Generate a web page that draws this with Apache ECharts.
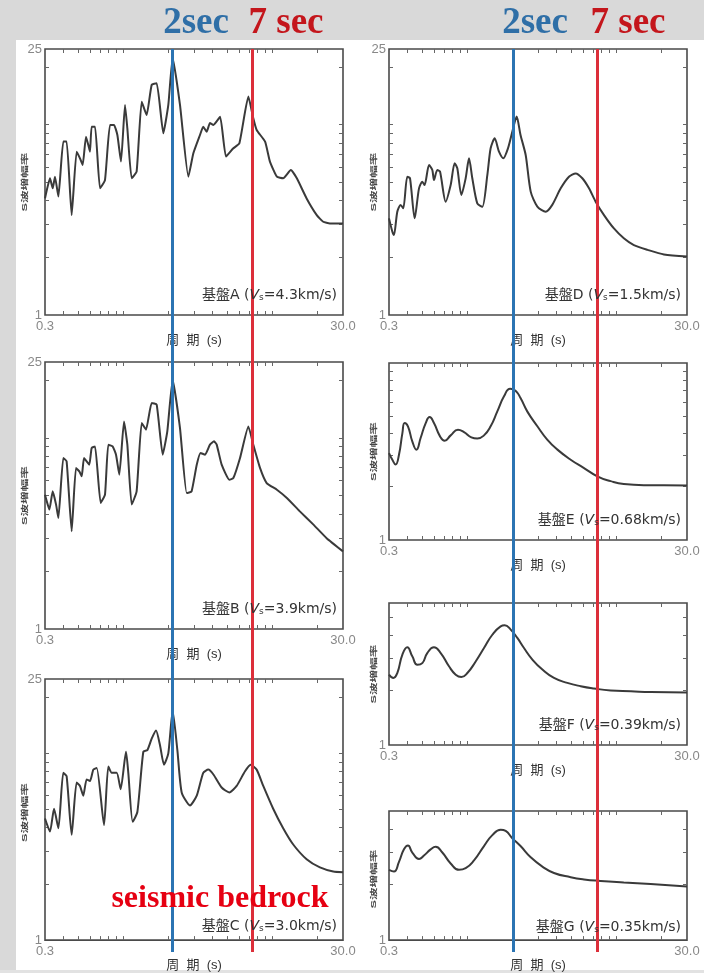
<!DOCTYPE html>
<html>
<head>
<meta charset="utf-8">
<title>S波増幅率</title>
<script src="https://cdn.jsdelivr.net/npm/echarts@6/dist/echarts.min.js"></script>
<style>
  html, body { margin: 0; padding: 0; background: #fff; }
  #chart { width: 704px; height: 973px; }
</style>
</head>
<body>
<div id="chart"></div>
<script>
  // period (s) / S-wave amplification, one pair of arrays per bedrock model
  let periodA = [0.3, 0.324, 0.338, 0.350, 0.369, 0.398, 0.419, 0.453, 0.489, 0.515, 0.537, 0.565, 0.586, 0.601, 0.617, 0.650, 0.702, 0.758, 0.819, 0.871, 0.918, 0.971, 1.033, 1.071, 1.145, 1.236, 1.337, 1.443, 1.56, 1.685, 1.867, 2.017, 2.157, 2.416, 2.75, 2.97, 3.29, 3.46, 3.65, 3.84, 4.05, 4.49, 4.92, 5.51, 6.05, 6.95, 7.5, 7.9, 9.0, 9.7, 10.8, 11.9, 13.4, 14.7, 17.1, 20.0, 22.1, 24.5, 30];
  let ampA = [4.10, 5.23, 4.63, 5.33, 4.19, 8.15, 8.15, 3.35, 7.22, 6.66, 6.14, 8.65, 7.82, 7.22, 9.77, 9.77, 4.63, 5.12, 9.97, 9.97, 8.83, 6.40, 12.7, 9.57, 5.23, 5.67, 13.2, 11.25, 16.2, 16.5, 9.01, 12.7, 22.5, 12.7, 5.33, 7.08, 8.83, 9.77, 9.19, 10.2, 9.97, 11.0, 6.80, 7.52, 7.99, 14.05, 10.8, 9.38, 8.15, 6.40, 5.33, 5.23, 5.78, 5.23, 4.10, 3.35, 3.09, 3.03, 3.03];

  let periodB = [0.3, 0.321, 0.338, 0.356, 0.369, 0.398, 0.419, 0.453, 0.484, 0.510, 0.529, 0.548, 0.571, 0.595, 0.617, 0.650, 0.709, 0.758, 0.798, 0.853, 0.899, 0.946, 1.017, 1.071, 1.145, 1.236, 1.337, 1.429, 1.56, 1.685, 1.849, 1.986, 2.157, 2.416, 2.68, 2.89, 3.13, 3.32, 3.56, 3.84, 4.09, 4.26, 4.60, 5.18, 5.51, 6.11, 6.95, 7.5, 8.32, 9.22, 10.8, 12.6, 15.4, 19.0, 23.3, 30];
  let ampB = [5.05, 4.22, 5.26, 4.48, 3.81, 7.86, 7.55, 3.25, 6.97, 6.69, 6.30, 7.86, 7.55, 7.25, 8.87, 9.04, 4.57, 5.05, 9.23, 9.04, 8.18, 6.43, 12.2, 9.23, 4.48, 5.26, 11.98, 11.06, 15.25, 14.95, 8.18, 10.83, 20.2, 11.28, 5.15, 5.26, 7.25, 8.35, 8.18, 9.23, 9.61, 9.23, 7.25, 6.05, 6.17, 7.86, 11.5, 9.23, 6.97, 5.81, 5.36, 4.85, 4.13, 3.52, 2.99, 2.55];

  let periodC = [0.3, 0.324, 0.345, 0.369, 0.398, 0.419, 0.453, 0.489, 0.515, 0.542, 0.571, 0.601, 0.633, 0.667, 0.747, 0.798, 0.841, 0.908, 0.966, 1.049, 1.087, 1.163, 1.250, 1.371, 1.459, 1.56, 1.668, 1.774, 1.887, 2.017, 2.157, 2.32, 2.48, 2.82, 3.13, 3.46, 3.74, 4.05, 4.60, 5.18, 5.80, 6.60, 7.20, 7.9, 8.75, 10.2, 11.9, 13.9, 17.1, 21.0, 25.8, 30];
  let ampC = [4.48, 3.81, 5.05, 3.97, 7.86, 7.55, 3.66, 6.97, 6.69, 5.93, 7.25, 7.11, 8.18, 8.35, 4.13, 8.51, 7.86, 7.86, 6.43, 10.2, 7.86, 4.30, 4.85, 10.2, 10.4, 11.98, 13.25, 11.06, 8.69, 10.0, 16.9, 10.4, 6.17, 5.26, 5.93, 7.86, 8.18, 7.70, 6.56, 6.17, 6.69, 8.02, 8.69, 8.18, 6.69, 5.05, 3.97, 3.25, 2.71, 2.45, 2.33, 2.31];

  let periodD = [0.3, 0.316, 0.324, 0.341, 0.359, 0.374, 0.398, 0.415, 0.446, 0.477, 0.502, 0.520, 0.557, 0.586, 0.601, 0.633, 0.660, 0.720, 0.778, 0.828, 0.862, 0.918, 0.981, 1.033, 1.087, 1.174, 1.269, 1.371, 1.443, 1.536, 1.642, 1.755, 1.887, 2.017, 2.157, 2.29, 2.48, 2.68, 2.97, 3.38, 3.74, 4.26, 4.84, 5.37, 5.95, 6.60, 7.31, 8.32, 9.7, 11.3, 13.2, 16.3, 21.0, 30];
  let ampD = [3.22, 2.74, 2.63, 3.49, 3.79, 3.64, 5.33, 5.23, 3.22, 4.63, 5.02, 4.82, 6.14, 5.78, 5.12, 5.78, 5.67, 3.94, 4.82, 6.27, 5.90, 4.27, 5.23, 6.66, 5.23, 3.86, 3.71, 5.44, 7.52, 8.48, 7.22, 6.66, 7.52, 9.19, 11.03, 8.83, 6.93, 4.45, 3.71, 3.49, 3.79, 4.63, 5.33, 5.55, 5.23, 4.63, 3.94, 3.35, 2.85, 2.53, 2.33, 2.20, 2.08, 2.03];

  let periodE = [0.3, 0.316, 0.332, 0.350, 0.369, 0.382, 0.402, 0.430, 0.458, 0.489, 0.529, 0.562, 0.601, 0.660, 0.709, 0.778, 0.871, 0.956, 1.071, 1.174, 1.302, 1.443, 1.60, 1.774, 1.95, 2.12, 2.29, 2.54, 2.97, 3.46, 4.05, 4.97, 6.11, 7.5, 9.22, 11.3, 15.4, 21.0, 30];
  let ampE = [3.10, 2.84, 2.67, 3.03, 4.02, 4.58, 4.39, 3.61, 3.24, 3.77, 4.58, 4.95, 4.58, 3.85, 3.64, 3.90, 4.20, 4.07, 3.80, 3.74, 3.90, 4.39, 5.33, 6.48, 7.16, 6.98, 6.34, 5.33, 4.39, 3.69, 3.24, 2.84, 2.55, 2.29, 2.15, 2.07, 2.04, 2.04, 2.03];

  let periodF = [0.3, 0.321, 0.341, 0.369, 0.398, 0.430, 0.465, 0.502, 0.542, 0.601, 0.667, 0.758, 0.841, 0.918, 1.007, 1.145, 1.302, 1.481, 1.685, 1.792, 1.967, 2.18, 2.416, 2.75, 3.21, 3.84, 4.72, 5.80, 7.13, 9.22, 12.6, 17.1, 30];
  let ampF = [2.43, 2.33, 2.48, 3.13, 3.43, 3.06, 2.75, 2.81, 3.19, 3.43, 3.19, 2.70, 2.43, 2.36, 2.48, 2.87, 3.40, 4.02, 4.47, 4.53, 4.29, 3.86, 3.40, 2.94, 2.59, 2.33, 2.19, 2.10, 2.04, 1.99, 1.97, 1.95, 1.94];

  let periodG = [0.3, 0.324, 0.350, 0.378, 0.402, 0.430, 0.477, 0.515, 0.571, 0.617, 0.684, 0.778, 0.885, 0.981, 1.116, 1.302, 1.481, 1.685, 1.82, 2.017, 2.29, 2.68, 3.21, 3.84, 4.97, 6.11, 7.90, 11.3, 17.1, 30];
  let ampG = [2.40, 2.35, 2.65, 3.10, 3.25, 2.98, 2.75, 2.87, 3.10, 3.20, 2.98, 2.60, 2.40, 2.45, 2.70, 3.23, 3.70, 3.96, 3.90, 3.56, 3.23, 2.81, 2.50, 2.31, 2.19, 2.13, 2.09, 2.05, 2.01, 1.95];

  let xTicks = [0.4, 0.5, 0.6, 0.7, 0.8, 0.9, 1, 2, 3, 4, 5, 6, 7, 8, 9, 10, 20];
  let xLabels = [0.3, 30];
  let yTicks = [2, 3, 4, 5, 6, 7, 8, 9, 10, 20];

  // where the 2 s / 7 s guide lines sit on each column
  let guideLeft = [2.13, 7.35];
  let guideRight = [2.06, 7.47];
  let guideColors = ['#2b74b3', '#dc2f3a'];

  let panels = [
    {name: 'A', vs: '4.3', period: periodA, amp: ampA, ymax: 25, smooth: 0.15, box: [45, 49, 298, 266]},
    {name: 'B', vs: '3.9', period: periodB, amp: ampB, ymax: 25, smooth: 0.15, box: [45, 362, 298, 267]},
    {name: 'C', vs: '3.0', period: periodC, amp: ampC, ymax: 25, smooth: 0.2, box: [45, 679, 298, 267]},
    {name: 'D', vs: '1.5', period: periodD, amp: ampD, ymax: 25, smooth: 0.25, box: [389, 49, 298, 266]},
    {name: 'E', vs: '0.68', period: periodE, amp: ampE, ymax: 10, smooth: 0.5, box: [389, 363, 298, 177]},
    {name: 'F', vs: '0.39', period: periodF, amp: ampF, ymax: 6, smooth: 0.5, box: [389, 603, 298, 142]},
    {name: 'G', vs: '0.35', period: periodG, amp: ampG, ymax: 5, smooth: 0.5, box: [389, 811, 298, 136]}
  ];

  let sans = '"Liberation Sans", "Noto Sans CJK JP", sans-serif';
  let wide = '"DejaVu Sans", "Noto Sans CJK JP", sans-serif';
  let grid = [], xAxis = [], yAxis = [], series = [], graphic = [];

  graphic.push({type: 'rect', z: -10, shape: {x: 0, y: 0, width: 704, height: 40}, style: {fill: '#d9d9d9'}});
  graphic.push({type: 'rect', z: -10, shape: {x: 0, y: 40, width: 16, height: 933}, style: {fill: '#d9d9d9'}});
  graphic.push({type: 'rect', z: -10, shape: {x: 0, y: 970, width: 704, height: 3}, style: {fill: '#e2e2e2'}});

  panels.forEach((p, i) => {
    let [left, top, width, height] = p.box;
    grid.push({left: left, top: top, width: width, height: height, show: true,
      backgroundColor: '#fff', borderColor: '#4a4a4a', borderWidth: 1.6});

    let tick = {inside: true, length: 4, lineStyle: {color: '#666', width: 1}};
    xAxis.push({
      type: 'log', gridIndex: i, min: 0.3, max: 30,
      axisLine: {show: false}, splitLine: {show: false},
      axisTick: Object.assign({customValues: xTicks}, tick),
      axisLabel: {customValues: xLabels, margin: 5, color: '#888', fontSize: 13, fontFamily: sans,
        formatter: v => v >= 30 ? '30.0' : '0.3'},
      name: '周  期  (s)', nameLocation: 'middle', nameGap: 5,
      nameTextStyle: {color: '#333', fontSize: 13, fontFamily: sans, verticalAlign: 'top'}
    });
    xAxis.push({
      type: 'log', gridIndex: i, min: 0.3, max: 30, position: 'top',
      axisLine: {show: false}, splitLine: {show: false}, axisLabel: {show: false},
      axisTick: Object.assign({customValues: xTicks}, tick)
    });

    let ticksY = yTicks.filter(t => t < p.ymax);
    yAxis.push({
      type: 'log', gridIndex: i, min: 1, max: p.ymax,
      axisLine: {show: false}, splitLine: {show: false},
      axisTick: Object.assign({customValues: ticksY}, tick),
      axisLabel: {customValues: p.ymax === 25 ? [1, 25] : [1], margin: 3, color: '#888', fontSize: 13, fontFamily: sans}
    });
    yAxis.push({
      type: 'log', gridIndex: i, min: 1, max: p.ymax, position: 'right',
      axisLine: {show: false}, splitLine: {show: false}, axisLabel: {show: false},
      axisTick: Object.assign({customValues: ticksY}, tick)
    });

    series.push({
      type: 'line', xAxisIndex: 2 * i, yAxisIndex: 2 * i,
      data: p.period.map((t, k) => [t, p.amp[k]]),
      symbol: 'none', smooth: p.smooth, z: 3,
      lineStyle: {color: '#3a3a3a', width: 2}
    });

    // squashed vertical axis title, as in the scanned figure
    graphic.push({
      type: 'text', z: 20, x: left < 200 ? left - 20 : left - 15, y: top + height / 2,
      rotation: Math.PI / 2, scaleX: 1.05, scaleY: 0.55,
      style: {text: 'S波増幅率', textAlign: 'center', textVerticalAlign: 'middle',
        font: 'bold 12px ' + sans, fill: '#444'}
    });

    graphic.push({
      type: 'text', z: 20, x: left + width - 6, y: top + height - 20,
      style: {
        text: '基盤' + p.name + ' ({v|V}{s|s}=' + p.vs + 'km/s)',
        textAlign: 'right', textVerticalAlign: 'middle',
        font: '14px ' + wide, fill: '#333',
        rich: {
          v: {fontSize: 14, fontStyle: 'italic', fontFamily: wide, fill: '#333'},
          s: {fontSize: 9, fontFamily: wide, fill: '#333', verticalAlign: 'bottom', padding: [6, 0, 0, 0]}
        }
      }
    });
  });

  // overlay grids for the full-height guide lines
  [[45, guideLeft], [389, guideRight]].forEach(([left, guides], k) => {
    let gi = panels.length + k;
    grid.push({left: left, top: 49, width: 298, height: 903, show: false});
    xAxis.push({type: 'log', gridIndex: gi, min: 0.3, max: 30, show: false});
    yAxis.push({type: 'value', gridIndex: gi, min: 0, max: 1, show: false});
    series.push({
      type: 'line', xAxisIndex: 2 * panels.length + k, yAxisIndex: 2 * panels.length + k,
      data: [], silent: true, z: 10,
      markLine: {
        symbol: ['none', 'none'], silent: true, animation: false, label: {show: false},
        data: guides.map((g, j) => ({xAxis: g, lineStyle: {color: guideColors[j], width: 3, type: 'solid'}}))
      }
    });
  });

  let serif = '"Liberation Serif", "DejaVu Serif", serif';
  let heads = [[196, '2sec', '#2f6fa7'], [286, '7 sec', '#c4161c'], [535, '2sec', '#2f6fa7'], [628, '7 sec', '#c4161c']];
  heads.forEach(h => {
    graphic.push({type: 'text', z: 20, x: h[0], y: 23,
      style: {text: h[1], textAlign: 'center', textVerticalAlign: 'middle', font: 'bold 37px ' + serif, fill: h[2]}});
  });
  graphic.push({type: 'text', z: 20, x: 220, y: 899,
    style: {text: 'seismic bedrock', textAlign: 'center', textVerticalAlign: 'middle', font: 'bold 32px ' + serif, fill: '#e60012'}});

  let chart = echarts.init(document.getElementById('chart'));
  chart.setOption({
    animation: false,
    backgroundColor: '#fff',
    grid: grid,
    xAxis: xAxis,
    yAxis: yAxis,
    series: series,
    graphic: graphic
  });
</script>
</body>
</html>
